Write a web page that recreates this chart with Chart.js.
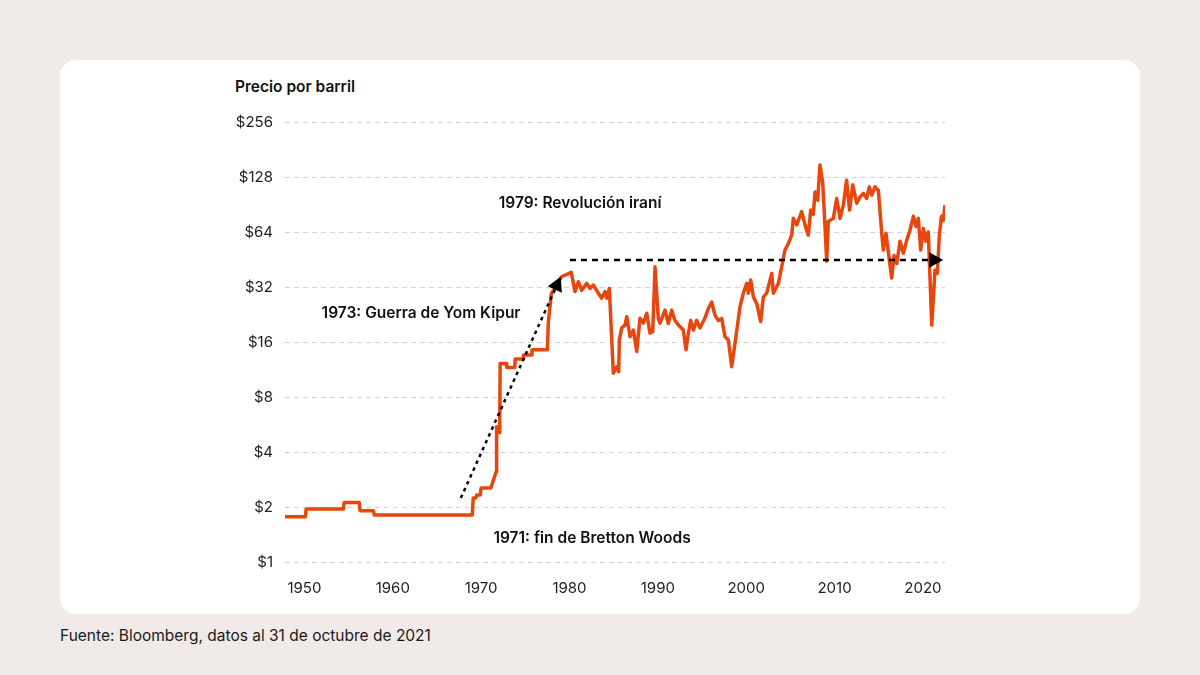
<!DOCTYPE html>
<html lang="es">
<head>
<meta charset="utf-8">
<title>Precio por barril</title>
<script src="https://cdn.jsdelivr.net/npm/chart.js@4.4.1/dist/chart.umd.min.js"></script>
<style>
  html, body {
    margin: 0;
    padding: 0;
    width: 1200px;
    height: 675px;
    background: #f0ebe8;
    font-family: Inter, "Noto Sans", sans-serif;
    overflow: hidden;
  }
  .card {
    position: absolute;
    left: 60px;
    top: 60px;
    width: 1080px;
    height: 554px;
    background: #fff;
    border-radius: 16px;
  }
  .unit {
    position: absolute;
    left: 235px;
    top: 77px;
    font-size: 15.5px;
    font-weight: 600;
    color: #111;
  }
  .source {
    position: absolute;
    left: 60px;
    top: 626px;
    font-size: 15.5px;
    color: #1a1a1a;
  }
  #wrap {
    position: absolute;
    left: 200px;
    top: 100px;
    width: 800px;
    height: 510px;
  }
</style>
</head>
<body>
<div class="card"></div>
<div class="unit">Precio por barril</div>
<div id="wrap"><canvas id="oil"></canvas></div>
<div class="source">Fuente: Bloomberg, datos al 31 de octubre de 2021</div>

<script>
// Oil price per barrel (USD)
const years = [
  1947.8, 1950.1, 1950.2, 1954.4, 1954.5, 1956.2, 1956.3, 1957.8, 1957.9, 1969.0,
  1969.1, 1969.4, 1969.5, 1969.9, 1970.0, 1971.1, 1971.7, 1971.75, 1972.1, 1972.15,
  1972.85, 1972.9, 1973.8, 1973.85, 1974.75, 1974.8, 1975.7, 1975.75, 1977.5, 1977.6,
  1977.95, 1978.5, 1979.1, 1980.2, 1980.62, 1981.0, 1981.38, 1981.95, 1982.32, 1982.7,
  1983.26, 1983.64, 1984.02, 1984.21, 1984.51, 1984.96, 1985.34, 1985.57, 1985.64, 1985.91,
  1986.28, 1986.48, 1986.85, 1987.23, 1987.61, 1987.98, 1988.36, 1988.74, 1989.11, 1989.42,
  1989.68, 1990.05, 1990.24, 1990.81, 1991.18, 1991.57, 1991.94, 1992.32, 1992.88, 1993.19,
  1993.45, 1993.72, 1994.02, 1994.4, 1994.77, 1995.34, 1995.71, 1996.1, 1996.47, 1996.85,
  1997.23, 1997.6, 1997.98, 1998.36, 1998.73, 1998.99, 1999.3, 1999.68, 2000.06, 2000.24,
  2000.51, 2000.81, 2001.19, 2001.64, 2001.94, 2002.32, 2002.89, 2003.07, 2003.64, 2004.02,
  2004.39, 2004.77, 2005.15, 2005.33, 2005.72, 2006.28, 2006.66, 2007.03, 2007.3, 2007.6,
  2007.79, 2008.09, 2008.35, 2008.66, 2008.92, 2009.11, 2009.29, 2009.86, 2010.24, 2010.62,
  2011.0, 2011.36, 2011.7, 2012.06, 2012.51, 2012.88, 2013.26, 2013.64, 2013.93, 2014.21,
  2014.58, 2014.96, 2015.34, 2015.52, 2015.82, 2016.08, 2016.47, 2016.73, 2017.04, 2017.41,
  2017.79, 2018.17, 2018.54, 2018.92, 2019.22, 2019.48, 2019.75, 2020.05, 2020.35, 2020.61,
  2021.0, 2021.37, 2021.63, 2021.86, 2022.1, 2022.3, 2022.5
];
const prices = [
  1.77, 1.77, 1.95, 1.95, 2.12, 2.12, 1.91, 1.91, 1.81, 1.81,
  2.24, 2.24, 2.33, 2.33, 2.54, 2.54, 3.12, 5.5, 5.1, 12.2,
  12.2, 11.6, 11.6, 12.9, 12.9, 13.6, 13.6, 14.5, 14.5, 20.3,
  29.6, 32.1, 36.4, 38.5, 30.2, 34.2, 30.7, 33.5, 31.4, 32.8,
  29.6, 27.8, 30.2, 27.8, 31.4, 10.8, 11.7, 11.0, 16.4, 19.1,
  19.8, 22.0, 17.1, 18.6, 14.2, 21.6, 20.3, 23.0, 17.9, 18.2,
  41.3, 21.6, 20.3, 23.9, 20.2, 23.9, 21.0, 19.8, 18.6, 14.5,
  17.8, 21.0, 18.6, 21.0, 19.1, 21.7, 24.4, 26.5, 22.4, 21.0,
  21.5, 17.1, 16.4, 11.7, 15.7, 19.4, 25.0, 29.6, 33.5, 29.6,
  34.9, 28.2, 26.0, 20.7, 28.2, 29.6, 38.0, 29.6, 33.5, 41.3,
  51.0, 55.4, 61.5, 76.0, 70.0, 82.7, 70.0, 61.5, 84.4, 80.0,
  106, 95.5, 149, 119, 68.5, 44.3, 73.0, 76.0, 97.7, 76.0,
  90.0, 123, 84.4, 116, 92.0, 99.5, 104, 97.7, 113, 102,
  113, 108, 63.0, 51.0, 63.0, 50.0, 35.8, 47.6, 43.0, 56.9,
  49.0, 57.8, 65.5, 78.0, 68.5, 76.0, 51.0, 67.0, 56.9, 64.0,
  19.8, 39.7, 38.0, 61.5, 78.0, 74.0, 90.0
];

// axis ticks
const yearTicks = [1950, 1960, 1970, 1980, 1990, 2000, 2010, 2020];
const priceTicks = [1, 2, 4, 8, 16, 32, 64, 128, 256];

// annotations (data coordinates: [year, price])
const trendArrow = [[1967.7, 2.24], [1979.0, 36.4]];
const levelArrow = [[1980.05, 45], [2022.3, 45]];
const noteTexts = ['1979: Revolución iraní', '1973: Guerra de Yom Kipur', '1971: fin de Bretton Woods'];
const notePlaces = [[1981.2, 92], [1963.2, 23], [1982.55, 1.35]];

const LINE_COLOR = '#e8460c';
const FONT = 'Inter, "Noto Sans", sans-serif';

function drawArrow(ctx, x0, y0, x1, y1, dash, width, head) {
  const ang = Math.atan2(y1 - y0, x1 - x0);
  const bx = x1 - Math.cos(ang) * head;
  const by = y1 - Math.sin(ang) * head;
  ctx.save();
  ctx.strokeStyle = '#000';
  ctx.fillStyle = '#000';
  ctx.lineWidth = width;
  ctx.setLineDash(dash);
  ctx.beginPath();
  ctx.moveTo(x0, y0);
  ctx.lineTo(bx, by);
  ctx.stroke();
  ctx.setLineDash([]);
  const half = head * 0.55;
  ctx.beginPath();
  ctx.moveTo(x1, y1);
  ctx.lineTo(bx + Math.sin(ang) * half, by - Math.cos(ang) * half);
  ctx.lineTo(bx - Math.sin(ang) * half, by + Math.cos(ang) * half);
  ctx.closePath();
  ctx.fill();
  ctx.restore();
}

const notesPlugin = {
  id: 'notes',
  afterDatasetsDraw(chart) {
    const { ctx } = chart;
    const xs = chart.scales.x;
    const ys = chart.scales.y;
    const px = p => [xs.getPixelForValue(p[0]), ys.getPixelForValue(p[1])];

    const [a0, a1] = trendArrow.map(px);
    drawArrow(ctx, a0[0], a0[1], a1[0], a1[1], [3.5, 4], 2.5, 14);
    const [b0, b1] = levelArrow.map(px);
    drawArrow(ctx, b0[0], b0[1], b1[0], b1[1], [6, 5], 2.5, 14);

    ctx.save();
    ctx.font = '600 15.5px ' + FONT;
    ctx.fillStyle = '#111';
    ctx.textAlign = 'center';
    ctx.textBaseline = 'middle';
    noteTexts.forEach((t, i) => {
      const [x, y] = px(notePlaces[i]);
      ctx.fillText(t, x, y);
    });
    ctx.restore();
  }
};

const chart = new Chart(document.getElementById('oil'), {
  type: 'line',
  data: {
    datasets: [{
      data: years.map((yr, i) => ({ x: yr, y: prices[i] })),
      borderColor: LINE_COLOR,
      borderWidth: 3.5,
      pointRadius: 0,
      tension: 0,
      borderJoinStyle: 'round',
      fill: false,
    }],
  },
  options: {
    responsive: true,
    maintainAspectRatio: false,
    animation: false,
    layout: { padding: { top: 22, right: 55, left: 0, bottom: 0 } },
    plugins: {
      legend: { display: false },
      tooltip: { enabled: false },
    },
    scales: {
      x: {
        type: 'linear',
        min: 1947.8,
        max: 2022.5,
        afterBuildTicks: s => { s.ticks = yearTicks.map(v => ({ value: v })); },
        afterFit: s => { s.height = 48; },
        grid: { display: false, drawTicks: false },
        border: { display: false },
        ticks: {
          padding: 17,
          color: '#222',
          font: { size: 15, family: FONT },
          callback: v => String(v),
          maxRotation: 0,
        },
      },
      y: {
        type: 'logarithmic',
        min: 1,
        max: 256,
        afterBuildTicks: s => { s.ticks = priceTicks.map(v => ({ value: v })); },
        afterFit: s => { s.width = 85; },
        grid: {
          color: '#d2d2d2',
          lineWidth: 1,
          drawTicks: false,
        },
        border: { display: false, dash: [5, 4] },
        ticks: {
          padding: 12,
          color: '#222',
          font: { size: 15, family: FONT },
          callback: v => '$' + v,
        },
      },
    },
  },
  plugins: [notesPlugin],
});
</script>
</body>
</html>
